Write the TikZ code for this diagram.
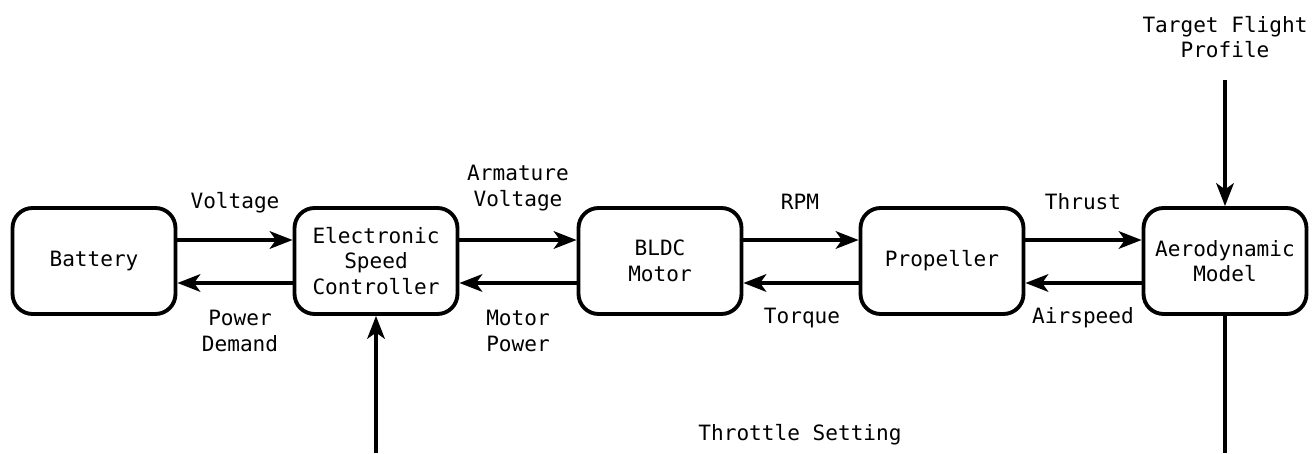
\documentclass[tikz,border=0pt]{standalone}
\usepackage{fontspec}
\setmonofont{DejaVu Sans Mono}
\usetikzlibrary{arrows.meta}

\begin{document}
\begin{tikzpicture}[x=0.02cm, y=0.02cm,
        font=\ttfamily\fontsize{12}{14.5}\selectfont,
        block/.style={draw, line width=2.2pt, rounded corners=0.4cm,
            minimum width=3.26cm, minimum height=2.12cm, align=center},
        flow/.style={line width=2pt, -{Stealth[length=13pt, width=10pt, inset=3.5pt]}},
        lbl/.style={align=center}]
        \useasboundingbox (0,0) rectangle (1314,453);

        % 方框
        \node[block] (bat) at (94,192) {Battery};
        \node[block] (esc) at (376,192) {Electronic\\Speed\\Controller};
        \node[block] (motor) at (660,192) {BLDC\\Motor};
        \node[block] (prop) at (942,192) {Propeller};
        \node[block] (aero) at (1225,192) {Aerodynamic\\Model};

        % 正向箭头
        \draw[flow] ([yshift=0.42cm]bat.east) -- ([yshift=0.42cm]esc.west);
        \draw[flow] ([yshift=0.42cm]esc.east) -- ([yshift=0.42cm]motor.west);
        \draw[flow] ([yshift=0.42cm]motor.east) -- ([yshift=0.42cm]prop.west);
        \draw[flow] ([yshift=0.42cm]prop.east) -- ([yshift=0.42cm]aero.west);

        % 反向箭头
        \draw[flow] ([yshift=-0.44cm]esc.west) -- ([yshift=-0.44cm]bat.east);
        \draw[flow] ([yshift=-0.44cm]motor.west) -- ([yshift=-0.44cm]esc.east);
        \draw[flow] ([yshift=-0.44cm]prop.west) -- ([yshift=-0.44cm]motor.east);
        \draw[flow] ([yshift=-0.44cm]aero.west) -- ([yshift=-0.44cm]prop.east);

        % 箭头标注
        \node[lbl] (volt) at (235,250) {Voltage};
        \node[lbl] (pdem) at (240,122) {Power\\Demand};
        \node[lbl] (avolt) at (518,265) {Armature\\Voltage};
        \node[lbl] (mpow) at (518,122) {Motor\\Power};
        \node[lbl] (rpm) at (800,251) {RPM};
        \node[lbl] (torq) at (802,135) {Torque};
        \node[lbl] (thrust) at (1083,251) {Thrust};
        \node[lbl] (aspd) at (1083,135) {Airspeed};

        % 外部输入
        \node[lbl] (target) at (1225,416) {Target Flight\\Profile};
        \coordinate (tfp) at (1225,373);
        \draw[flow] (tfp) -- (aero.north);

        % 油门回路
        \coordinate (thr) at (376,0);
        \coordinate (aerobot) at (1225,0);
        \draw[flow] (thr) -- (esc.south);
        \draw[line width=2pt] (aero.south) -- (aerobot);
        \node[lbl] (tset) at (800,18) {Throttle Setting};
    \end{tikzpicture}
\end{document}
